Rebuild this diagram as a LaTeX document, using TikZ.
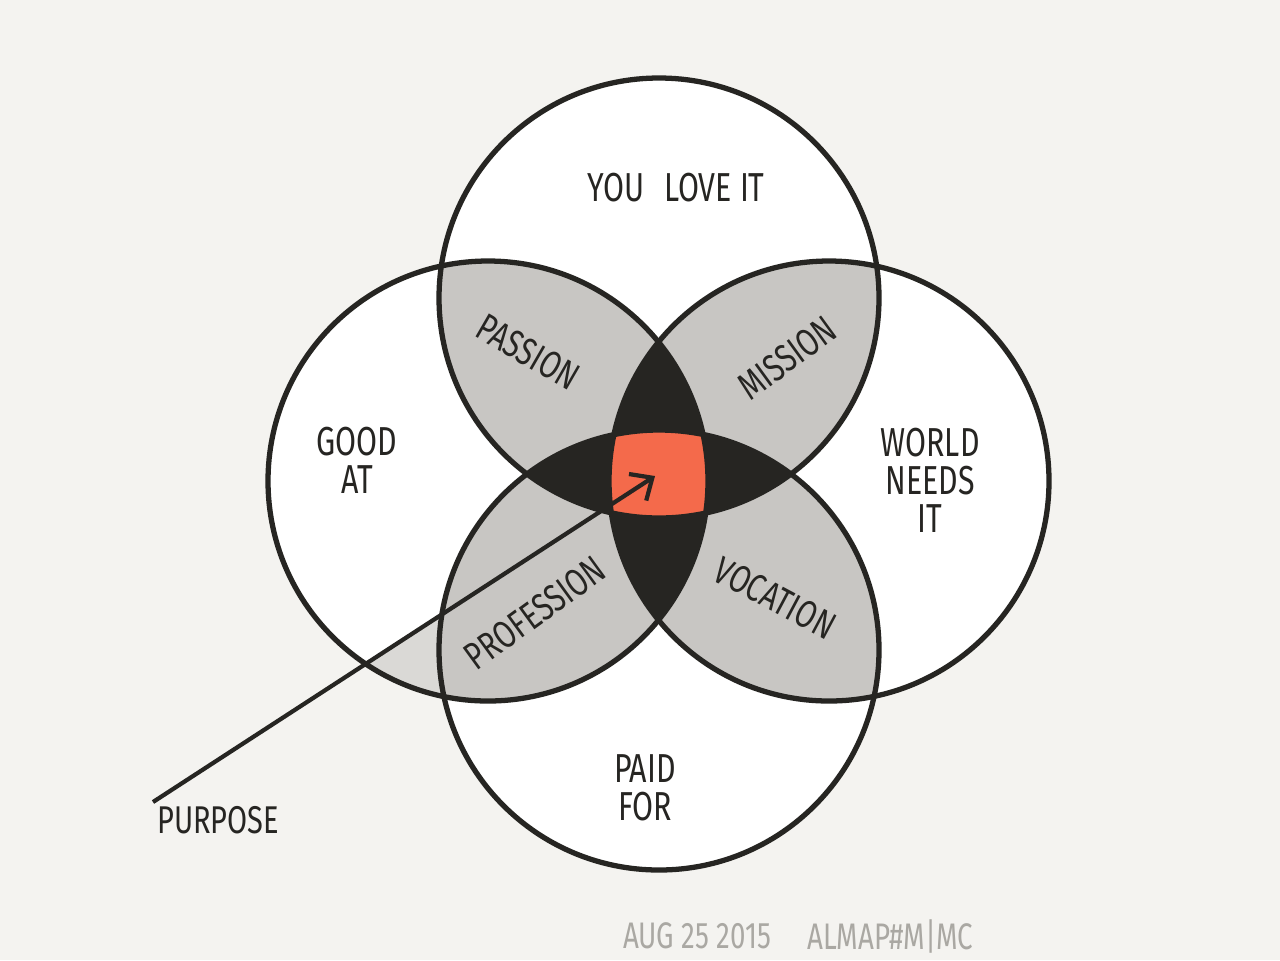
\documentclass[tikz,border=0pt]{standalone}
\usepackage{fontspec}
\newfontfamily\handfont{Fira Sans}[FakeStretch=0.75]
\usetikzlibrary{positioning,arrows.meta}

\definecolor{paper}{HTML}{F4F3F0}
\definecolor{ink}{HTML}{262522}
\definecolor{lens}{HTML}{C8C6C3}
\definecolor{spill}{HTML}{DAD9D6}
\definecolor{core}{HTML}{F46A4B}
\definecolor{pencil}{HTML}{AAA8A3}

\tikzset{
	ring/.style={draw=ink, line width=1.5pt},
	hand/.style={text=ink, font=\handfont\fontsize{11.5}{10.8}\selectfont, align=center, inner sep=0pt},
	tilted/.style={hand, font=\handfont\fontsize{11}{11}\selectfont},
	note/.style={text=pencil, font=\handfont\fontsize{10.5}{11}\selectfont, inner sep=0pt},
	pointer/.style={draw=ink, line width=1.2pt, -{Straight Barb[length=5pt,width=9pt,line width=1.2pt]}}
}

\begin{document}
\begin{tikzpicture}[x=0.01cm,y=-0.01cm]
	\fill[paper] (0,0) rectangle (1280,960);

	\coordinate (love) at (659,298);
	\coordinate (good) at (488,481);
	\coordinate (world) at (829,481);
	\coordinate (paid) at (659,650);
	\coordinate (tail) at (153,802);
	\coordinate (aim) at (655,476);

	\foreach \c in {love,good,world,paid}
		\fill[white] (\c) circle (220);

	\begin{scope}
		\clip (good) circle (220);
		\clip (tail) -- (aim) -- (720,960) -- (100,960) -- cycle;
		\fill[spill] (good) circle (220);
	\end{scope}

	\foreach \a/\b in {love/good,love/world,paid/good,paid/world}{
		\begin{scope}
			\clip (\a) circle (220);
			\fill[lens] (\b) circle (220);
		\end{scope}
	}

	\foreach \a/\b/\c in {love/good/world,paid/good/world,good/love/paid,world/love/paid}{
		\begin{scope}
			\clip (\a) circle (220);
			\clip (\b) circle (220);
			\fill[ink] (\c) circle (220);
		\end{scope}
	}

	\begin{scope}
		\clip (love) circle (220);
		\clip (good) circle (220);
		\clip (world) circle (220);
		\fill[core] (paid) circle (220);
	\end{scope}

	\foreach \c in {love,good,world,paid}
		\draw[ring] (\c) circle (220);

	\draw
	node[hand] (lovelbl) at (676,188) {YOU\enspace LOVE IT}
	node[tilted, rotate=-30] (passion) at (528,352) {PASSION}
	node[tilted, rotate=36] (mission) at (787,358) {MISSION}
	node[hand] (goodlbl) at (357,460) {GOOD\\AT}
	node[hand] (worldlbl) at (930,480) {WORLD\\NEEDS\\IT}
	node[tilted, rotate=36] (profession) at (535,613) {PROFESSION}
	node[tilted, rotate=-28] (vocation) at (775,598) {VOCATION}
	node[hand] (paidlbl) at (645,788) {PAID\\FOR}
	node[tilted, below right=1pt and 1pt of tail] (purpose) {PURPOSE};

	\draw[pointer] (tail) -- (aim);

	\draw
	node[note] (date) at (697,936) {AUG 25 2015}
	node[note, right=3.5mm of date] (sign) {ALMAP\#M\textbar MC};
\end{tikzpicture}
\end{document}
